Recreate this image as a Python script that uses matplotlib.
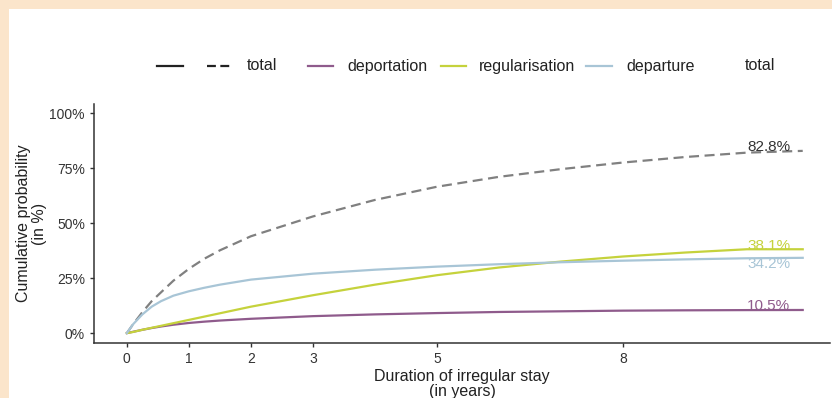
import matplotlib.pyplot as plt
from matplotlib.lines import Line2D
from matplotlib.patches import Rectangle

plt.rcParams['font.family'] = ['Liberation Sans', 'DejaVu Sans']

# years of irregular stay
years = [0, 0.1, 0.25, 0.4, 0.55, 0.75, 1, 1.25, 1.5, 2, 3, 4, 5, 6, 7, 8, 9, 10, 10.9]
total = [0, 4, 9.5, 14.5, 18.5, 23.8, 29.2, 33.8, 37.6, 44, 53, 60.5, 66.5, 71, 74.5, 77.5, 80, 82, 82.8]
departure = [0, 4, 8.5, 12, 14.5, 17, 19, 20.6, 22, 24.3, 27, 28.8, 30.2, 31.3, 32.2, 32.9, 33.5, 34, 34.2]
regularisation = [0, 0.5, 1.5, 2.4, 3.3, 4.5, 6, 7.5, 9, 12, 17.2, 22, 26.3, 29.8, 32.5, 34.8, 36.6, 38.1, 38.1]
deportation = [0, 0.6, 1.5, 2.3, 3.0, 3.8, 4.6, 5.2, 5.7, 6.5, 7.7, 8.5, 9.1, 9.6, 9.9, 10.2, 10.35, 10.45, 10.5]

xticks = [0, 1, 2, 3, 5, 8]
yticks = [0, 25, 50, 75, 100]

c_dep = '#8f5b8c'
c_reg = '#c5d23c'
c_dept = '#a8c5d6'
c_tot = '#808080'

fig = plt.figure(figsize=(8.32, 3.98), dpi=100)
fig.patch.set_facecolor('#fbe5cb')
fig.add_artist(Rectangle((9 / 832, 0), 1, 1 - 9 / 398, transform=fig.transFigure,
                         facecolor='white', edgecolor='none', zorder=-1))

ax = fig.add_axes([94 / 832, 1 - 343 / 398, (830 - 94) / 832, (343 - 104) / 398])
ax.set_facecolor('none')

ax.plot(years, total, color=c_tot, lw=1.6, ls=(0, (4.5, 2.5)))
ax.plot(years, deportation, color=c_dep, lw=1.6)
ax.plot(years, regularisation, color=c_reg, lw=1.6)
ax.plot(years, departure, color=c_dept, lw=1.6)

# end labels
lx = 10.35
ax.text(lx, total[-1] - 1.5, f'{total[-1]:.1f}%', color='#333333', ha='center', va='bottom', fontsize=11)
ax.text(lx, regularisation[-1] - 1.5, f'{regularisation[-1]:.1f}%', color=c_reg, ha='center', va='bottom', fontsize=11)
ax.text(lx, departure[-1] + 0.5, f'{departure[-1]:.1f}%', color=c_dept, ha='center', va='top', fontsize=11)
ax.text(lx, deportation[-1] - 1.5, f'{deportation[-1]:.1f}%', color=c_dep, ha='center', va='bottom', fontsize=11)

ax.set_xlim(-0.53, 11.34)
ax.set_ylim(-4.5, 104.1)
ax.set_xticks(xticks)
ax.set_yticks(yticks)
ax.set_yticklabels([f'{v}%' for v in yticks])
for s in ['top', 'right']:
    ax.spines[s].set_visible(False)
for s in ['left', 'bottom']:
    ax.spines[s].set_color('#333333')
    ax.spines[s].set_linewidth(1.1)
ax.tick_params(colors='#333333', labelcolor='#333333', labelsize=10, length=3, width=1)
ax.set_xlabel('Duration of irregular stay\n(in years)', fontsize=11.5, color='#222222', labelpad=2, linespacing=1.05)
ax.set_ylabel('Cumulative probability\n(in %)', fontsize=11.5, color='#222222', labelpad=2, linespacing=1.05)

# legend drawn by hand, figure pixel coordinates
def fx(px):
    return px / 832

ly = 1 - 66 / 398
lfs = 11.5
fig.add_artist(Line2D([fx(157), fx(183)], [ly, ly], color='#222222', lw=1.6, transform=fig.transFigure))
fig.add_artist(Line2D([fx(207), fx(233)], [ly, ly], color='#222222', lw=1.6, ls=(0, (4, 2)), transform=fig.transFigure))
fig.text(fx(247), ly, 'total', fontsize=lfs, va='center', color='#222222')
fig.add_artist(Line2D([fx(308), fx(333)], [ly, ly], color=c_dep, lw=1.6, transform=fig.transFigure))
fig.text(fx(347), ly, 'deportation', fontsize=lfs, va='center', color='#222222')
fig.add_artist(Line2D([fx(441), fx(466)], [ly, ly], color=c_reg, lw=1.6, transform=fig.transFigure))
fig.text(fx(479), ly, 'regularisation', fontsize=lfs, va='center', color='#222222')
fig.add_artist(Line2D([fx(586), fx(612)], [ly, ly], color=c_dept, lw=1.6, transform=fig.transFigure))
fig.text(fx(626), ly, 'departure', fontsize=lfs, va='center', color='#222222')
fig.text(fx(745), ly, 'total', fontsize=lfs, va='center', color='#222222')

fig.savefig('out.png', dpi=100)
